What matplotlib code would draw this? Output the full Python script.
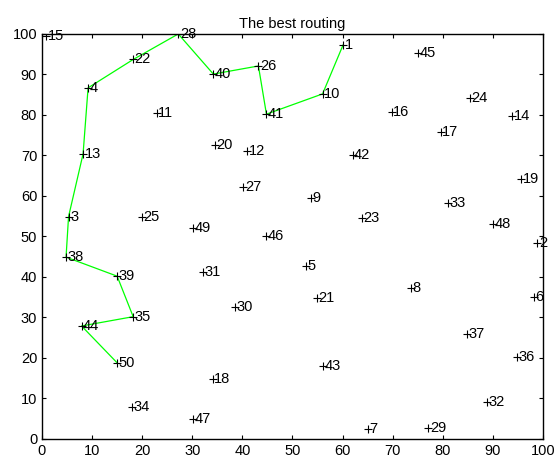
import matplotlib
matplotlib.use("Agg")
import matplotlib.pyplot as plt

city_ids = list(range(1, 51))
city_x = [60.1, 98.9, 5.3, 9.2, 52.7, 98.2, 65.1, 73.7, 53.6, 56.0,
          22.9, 40.9, 8.2, 93.8, 0.8, 69.8, 79.6, 34.1, 95.7, 34.5,
          54.8, 18.2, 63.8, 85.4, 19.9, 43.2, 40.2, 27.2, 77.1, 38.5,
          32.2, 88.9, 81.1, 17.9, 18.2, 94.9, 84.8, 4.8, 15.0, 34.2,
          44.8, 62.0, 56.1, 7.9, 75.1, 44.8, 30.1, 90.1, 30.1, 15.0]
city_y = [97.3, 48.3, 54.9, 86.7, 42.8, 35.1, 2.4, 37.2, 59.4, 85.2,
          80.4, 71.1, 70.4, 79.8, 99.4, 80.8, 75.7, 14.7, 64.1, 72.6,
          34.9, 93.7, 54.5, 84.1, 54.7, 92.1, 62.3, 100.0, 2.6, 32.7,
          41.2, 9.1, 58.2, 7.8, 30.2, 20.2, 25.9, 44.9, 40.2, 90.1,
          80.2, 70.0, 18.0, 27.9, 95.2, 50.1, 4.9, 53.0, 52.0, 18.8]
route = [50, 44, 35, 39, 38, 3, 13, 4, 22, 28, 40, 26, 41, 10, 1]
title_text = "The best routing"
x_ticks = list(range(0, 101, 10))
y_ticks = list(range(0, 101, 10))

plt.rcParams['font.family'] = ['Liberation Sans', 'DejaVu Sans']
fig = plt.figure(figsize=(5.6, 4.59), dpi=100)
ax = fig.add_axes([0.075, 0.0436, 0.8946, 0.8824])

ax.plot(city_x, city_y, '+', color='black', markersize=5.5, markeredgewidth=0.8, zorder=3)
for i, x, y in zip(city_ids, city_x, city_y):
    ax.text(x + 0.3, y, str(i), fontsize=10.5, ha='left', va='center', zorder=4)

rx = [city_x[c - 1] for c in route]
ry = [city_y[c - 1] for c in route]
ax.plot(rx, ry, color='#00ff00', linewidth=0.9, zorder=2)

ax.set_xlim(0, 100)
ax.set_ylim(0, 100)
ax.set_xticks(x_ticks)
ax.set_yticks(y_ticks)
ax.tick_params(direction='in', length=3, width=0.8, top=True, right=True, labelsize=10.5)
for s in ax.spines.values():
    s.set_linewidth(1.0)
ax.set_title(title_text, fontsize=10.5, pad=4)

fig.savefig("out.png", dpi=100)
